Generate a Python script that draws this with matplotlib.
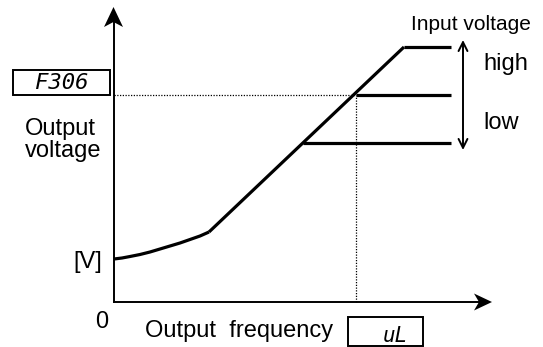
"""
V/f characteristic with voltage compensation: output voltage vs output frequency.
"""
import numpy as np
import matplotlib.pyplot as plt
from matplotlib.patches import Rectangle, Polygon

plt.rcParams.update({
    'font.family': ['Liberation Sans', 'DejaVu Sans'],
    'font.size': 17,
})

# ── data (frequency / voltage in drawing units, origin at axis crossing) ──
boost_f = [0, 8, 16, 26, 36, 46, 56, 66, 76, 86, 95]   # torque-boost region
boost_v = [43, 44, 45.5, 47.5, 50, 53, 56, 59, 62.5, 66, 70]
ramp_f = [95, 290]                          # linear V/f section
ramp_v = [70, 255]
hold_high_f = [290, 337]                    # input voltage high
hold_high_v = [255, 255]
hold_mid_f = [242, 337]                     # F306 level
hold_mid_v = [207, 207]
hold_low_f = [189, 337]                     # input voltage low
hold_low_v = [159, 159]
base_freq = 242                             # uL
f306_volt = 207

F_MAX = 378
V_MAX = 295

fig = plt.figure(figsize=(5.43, 3.47), dpi=100)
ax = fig.add_axes([0, 0, 1, 1])
ax.set_xlim(-114, 429)
ax.set_ylim(-45, 302)
ax.axis('off')


def arrowhead(x, y, dx, dy, length, half_w, notch):
    # stealth-style head with tip at (x, y) pointing along (dx, dy)
    d = np.array([dx, dy], float)
    d /= np.hypot(*d)
    n = np.array([-d[1], d[0]])
    tip = np.array([x, y])
    back = tip - d * length
    pts = [tip, back + n * half_w, tip - d * (length - notch), back - n * half_w]
    ax.add_patch(Polygon(pts, closed=True, color='black', lw=0))


# axes
ax.plot([0, 0], [0, V_MAX - 6], color='black', lw=1.4)
ax.plot([0, F_MAX - 6], [0, 0], color='black', lw=1.4)
arrowhead(-0.5, V_MAX, 0, 1, 20, 9.5, 5)
arrowhead(F_MAX, 0, 1, 0, 18, 8.5, 5)

# characteristic
ax.plot(boost_f, boost_v, color='black', lw=2.3, solid_capstyle='butt',
        solid_joinstyle='round')
ax.plot(ramp_f, ramp_v, color='black', lw=2.3, solid_capstyle='butt')
ax.plot(hold_high_f, hold_high_v, color='black', lw=2.3, solid_capstyle='butt')
ax.plot(hold_mid_f, hold_mid_v, color='black', lw=2.3, solid_capstyle='butt')
ax.plot(hold_low_f, hold_low_v, color='black', lw=2.3, solid_capstyle='butt')

# dotted guides
ax.plot([0, base_freq], [f306_volt, f306_volt], color='black', lw=0.9,
        linestyle=(0, (1, 1.2)))
ax.plot([base_freq, base_freq], [0, f306_volt], color='black', lw=0.9,
        linestyle=(0, (1, 1.2)))

# input voltage double arrow
ax.annotate('', xy=(349, 262), xytext=(349, 152),
            arrowprops=dict(arrowstyle='<->', color='black', lw=1.4,
                            mutation_scale=16, shrinkA=0, shrinkB=0))

# labels
ax.text(357, 272, 'Input voltage', fontsize=15, ha='center', va='baseline')
ax.text(369, 232, 'high', ha='left', va='baseline')
ax.text(369, 173, 'low', ha='left', va='baseline')
ax.text(-89, 167, 'Output', ha='left', va='baseline')
ax.text(-89, 145, 'voltage', ha='left', va='baseline')
ax.text(-12, 34, '[V]', ha='right', va='baseline')
ax.text(-12, -26, '0', ha='center', va='baseline')
ax.text(31, -35, 'Output  frequency', ha='left', va='baseline')

# parameter boxes
ax.add_patch(Rectangle((-101, 207), 97, 25, fill=False, ec='black', lw=1.4))
ax.text(-52.5, 213, 'F306', fontsize=16, family='DejaVu Sans Mono',
        style='oblique', ha='center', va='baseline')
ax.add_patch(Rectangle((234, -44), 75, 29, fill=False, ec='black', lw=1.4))
ax.text(281.5, -40, 'uL', fontsize=15, family='DejaVu Sans Mono',
        style='oblique', ha='center', va='baseline')

fig.savefig('out.png', dpi=100)
